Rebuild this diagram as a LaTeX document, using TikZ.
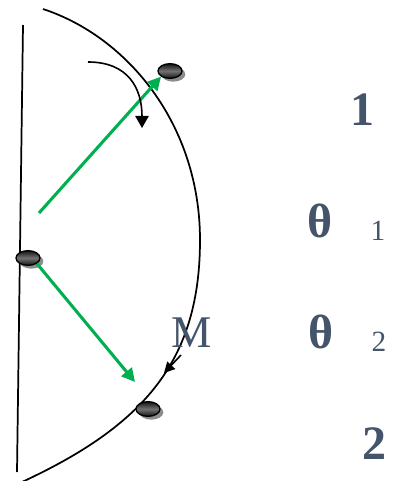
\documentclass[tikz,border=0pt]{standalone}
\usepackage{fontspec}
\setmainfont{Liberation Serif}
\usepackage{tikz}
\usetikzlibrary{arrows.meta,shapes.geometric,shadows}
\definecolor{slate}{HTML}{44546A}
\definecolor{kelly}{HTML}{00B050}

\begin{document}
\begin{tikzpicture}[
  x=0.75pt,y=-0.75pt,
  puck/.style={ellipse,draw=black,line width=1pt,minimum width=18pt,minimum height=11pt,inner sep=0pt,
    top color=black!92,bottom color=black!92,middle color=black!55,
    drop shadow={shadow xshift=2.5pt,shadow yshift=-2.5pt,fill=black!45,opacity=1}},
  lbl/.style={text=slate,inner sep=0pt,font=\fontsize{36}{36}\selectfont\bfseries},
  sub/.style={text=slate,inner sep=0pt,font=\fontsize{22}{22}\selectfont},
  shot/.style={-{Triangle[length=10pt,width=10pt]},line width=2.3pt,kelly},
  turn/.style={-{Triangle[length=9pt,width=10pt]},line width=1.2pt,black}
]
\useasboundingbox (0,0) rectangle (393,481);
\draw[line width=1.3pt] (23,25) -- (17,472);
\draw[line width=1.3pt] (43,9) .. controls (128,37) and (200,125) .. (200,240)
  .. controls (200,360) and (145,425) .. (22,482);
\node[puck] (top) at (170,71) {};
\node[puck] (left) at (28,258) {};
\node[puck] (bot) at (148,409) {};
\coordinate (aim) at (39,213);
\coordinate (land) at (135,382);
\draw[shot] (aim) -- (top.south west);
\draw[shot] (left.south east) -- (land);
\coordinate (spin) at (88,62);
\coordinate (spinend) at (142,128);
\draw[turn] (spin) .. controls (128,62) and (142,88) .. (spinend);
\coordinate (push) at (181,355);
\coordinate (pushend) at (164,373);
\draw[-{Triangle[length=8pt,width=8pt]},line width=1.2pt] (push) -- (pushend);
\node[text=slate,inner sep=0pt,font=\fontsize{34}{34}\selectfont] (mass) at (192,333) {M};
\node[lbl] (one) at (362,110) {1};
\node[lbl] (th1) at (320,221) {θ};
\node[sub] (s1) at (378,231) {1};
\node[lbl] (th2) at (321,332) {θ};
\node[sub] (s2) at (379,342) {2};
\node[lbl] (two) at (374,444) {2};
\end{tikzpicture}
\end{document}
